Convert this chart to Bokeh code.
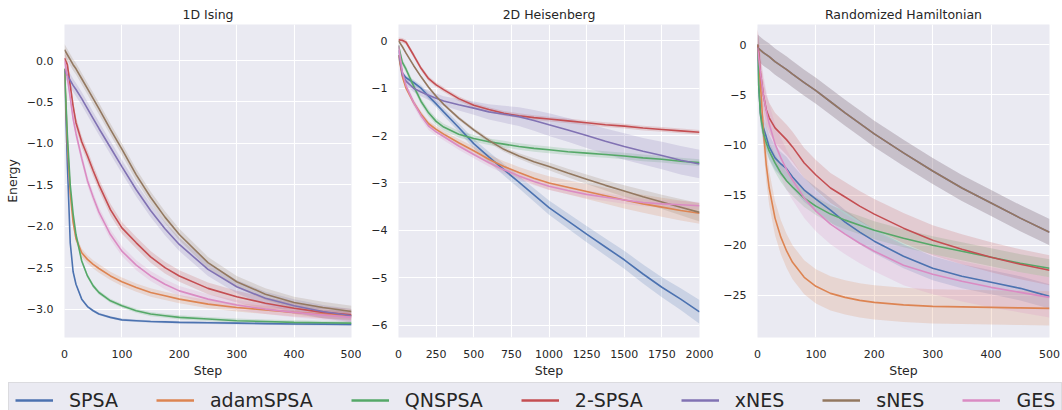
import numpy as np
from bokeh.plotting import figure
from bokeh.layouts import column, row
from bokeh.models import FixedTicker, Legend, LegendItem, Range1d, CustomJSTickFormatter
from bokeh.embed import file_html
from bokeh.resources import INLINE

names = ["SPSA", "adamSPSA", "QNSPSA", "2-SPSA", "xNES", "sNES", "GES"]
colors = ["#4C72B0", "#DD8452", "#55A868", "#C44E52", "#8172B3", "#937860", "#DA8BC3"]

# ---------------- 1D Ising ----------------
ising_steps = [0, 5, 10, 15, 20, 30, 40, 50, 60, 80, 100, 125, 150, 175, 200, 250, 300, 350, 400, 450, 500]
ising_SPSA = [-0.1, -1.25, -2.2, -2.55, -2.7, -2.88, -2.97, -3.02, -3.06, -3.1, -3.13, -3.14, -3.15, -3.155, -3.16, -3.165, -3.17, -3.175, -3.18, -3.182, -3.185]
ising_adamSPSA = [-0.1, -1.0, -1.6, -1.95, -2.15, -2.32, -2.4, -2.46, -2.51, -2.6, -2.67, -2.74, -2.8, -2.84, -2.88, -2.94, -2.98, -3.01, -3.04, -3.06, -3.08]
ising_QNSPSA = [-0.1, -0.9, -1.5, -1.85, -2.1, -2.42, -2.6, -2.72, -2.8, -2.9, -2.96, -3.02, -3.06, -3.08, -3.1, -3.12, -3.14, -3.15, -3.16, -3.165, -3.17]
ising_2SPSA = [0.03, -0.05, -0.3, -0.55, -0.75, -0.98, -1.15, -1.33, -1.5, -1.8, -2.02, -2.2, -2.37, -2.5, -2.6, -2.75, -2.85, -2.93, -2.99, -3.04, -3.07]
ising_xNES = [-0.12, -0.18, -0.24, -0.3, -0.35, -0.46, -0.58, -0.7, -0.82, -1.05, -1.28, -1.56, -1.81, -2.03, -2.22, -2.52, -2.73, -2.87, -2.96, -3.03, -3.08]
ising_sNES = [0.13, 0.07, 0.01, -0.05, -0.1, -0.22, -0.34, -0.46, -0.58, -0.83, -1.07, -1.38, -1.65, -1.89, -2.1, -2.44, -2.67, -2.82, -2.92, -2.98, -3.03]
ising_GES = [0.0, -0.2, -0.45, -0.7, -0.88, -1.18, -1.45, -1.65, -1.83, -2.1, -2.3, -2.47, -2.6, -2.7, -2.78, -2.88, -2.95, -3.0, -3.04, -3.07, -3.1]
ising_spread = [0.015, 0.05, 0.025, 0.07, 0.08, 0.07, 0.06]

# ---------------- 2D Heisenberg ----------------
heis_steps = [0, 25, 50, 100, 150, 200, 250, 300, 400, 500, 600, 700, 800, 900, 1000, 1125, 1250, 1375, 1500, 1625, 1750, 1875, 2000]
heis_SPSA = [-0.3, -0.68, -0.78, -0.88, -1.0, -1.17, -1.33, -1.5, -1.83, -2.17, -2.45, -2.72, -2.98, -3.25, -3.52, -3.8, -4.08, -4.35, -4.62, -4.92, -5.2, -5.45, -5.72]
heis_adamSPSA = [-0.3, -0.75, -1.0, -1.3, -1.55, -1.75, -1.87, -1.97, -2.15, -2.32, -2.5, -2.65, -2.78, -2.9, -3.0, -3.09, -3.18, -3.27, -3.36, -3.44, -3.51, -3.58, -3.64]
heis_QNSPSA = [-0.1, -0.45, -0.6, -0.95, -1.28, -1.52, -1.7, -1.82, -1.97, -2.06, -2.13, -2.18, -2.23, -2.27, -2.3, -2.34, -2.37, -2.4, -2.43, -2.47, -2.5, -2.54, -2.57]
heis_2SPSA = [0.02, 0.01, -0.03, -0.3, -0.58, -0.8, -0.93, -1.03, -1.22, -1.36, -1.45, -1.53, -1.58, -1.62, -1.65, -1.69, -1.73, -1.77, -1.8, -1.84, -1.87, -1.9, -1.93]
heis_xNES = [-0.2, -0.72, -0.85, -1.0, -1.08, -1.15, -1.21, -1.27, -1.35, -1.42, -1.5, -1.55, -1.6, -1.68, -1.77, -1.88, -2.0, -2.12, -2.23, -2.33, -2.42, -2.52, -2.6]
heis_sNES = [0.0, -0.12, -0.26, -0.52, -0.76, -0.98, -1.17, -1.34, -1.63, -1.88, -2.1, -2.29, -2.43, -2.55, -2.65, -2.79, -2.92, -3.05, -3.17, -3.29, -3.4, -3.51, -3.62]
heis_GES = [-0.1, -0.65, -0.95, -1.3, -1.58, -1.8, -1.92, -2.02, -2.22, -2.4, -2.57, -2.72, -2.85, -2.97, -3.07, -3.16, -3.24, -3.3, -3.36, -3.41, -3.44, -3.46, -3.48]
heis_SPSA_sd = [0.02, 0.05, 0.05, 0.06, 0.06, 0.07, 0.07, 0.08, 0.09, 0.1, 0.11, 0.12, 0.13, 0.14, 0.15, 0.16, 0.17, 0.18, 0.19, 0.2, 0.21, 0.23, 0.25]
heis_adamSPSA_sd = [0.02, 0.04, 0.05, 0.05, 0.06, 0.06, 0.07, 0.07, 0.08, 0.09, 0.1, 0.11, 0.12, 0.13, 0.14, 0.15, 0.16, 0.17, 0.18, 0.19, 0.2, 0.21, 0.22]
heis_xNES_sd = [0.03, 0.08, 0.08, 0.08, 0.09, 0.1, 0.1, 0.1, 0.12, 0.14, 0.16, 0.18, 0.2, 0.22, 0.24, 0.25, 0.26, 0.27, 0.28, 0.28, 0.29, 0.3, 0.3]
heis_sNES_sd = [0.01, 0.01, 0.02, 0.02, 0.02, 0.03, 0.03, 0.03, 0.04, 0.04, 0.05, 0.05, 0.06, 0.07, 0.08, 0.09, 0.1, 0.11, 0.12, 0.14, 0.15, 0.17, 0.19]
heis_spread = [heis_SPSA_sd, heis_adamSPSA_sd, 0.07, 0.05, heis_xNES_sd, heis_sNES_sd, 0.08]

# ---------------- Randomized Hamiltonian ----------------
rand_steps = [0, 2, 5, 10, 15, 20, 30, 40, 50, 60, 80, 100, 125, 150, 175, 200, 250, 300, 350, 400, 450, 500]
rand_SPSA = [0.0, -4.0, -6.8, -8.3, -9.2, -10.2, -11.3, -11.9, -12.4, -13.2, -14.5, -15.4, -16.5, -17.7, -18.7, -19.6, -21.1, -22.3, -23.1, -23.7, -24.3, -25.1]
rand_adamSPSA = [0.0, -1.5, -4.0, -8.5, -12.0, -14.3, -17.3, -19.2, -20.6, -21.7, -23.2, -24.1, -24.8, -25.2, -25.5, -25.7, -25.95, -26.1, -26.15, -26.2, -26.25, -26.3]
rand_QNSPSA = [0.0, -4.0, -7.0, -8.8, -9.8, -10.6, -11.8, -12.8, -13.6, -14.2, -15.3, -16.1, -16.9, -17.5, -18.0, -18.5, -19.3, -20.0, -20.6, -21.2, -21.8, -22.3]
rand_2SPSA = [0.0, -0.8, -2.8, -5.0, -6.5, -7.3, -8.3, -8.9, -9.5, -10.2, -11.8, -13.0, -14.3, -15.2, -16.1, -16.9, -18.3, -19.5, -20.4, -21.2, -21.9, -22.5]
rand_xNES = [-0.3, -0.4, -0.55, -0.8, -1.0, -1.2, -1.7, -2.1, -2.5, -2.95, -3.8, -4.6, -5.7, -6.8, -7.85, -8.9, -10.8, -12.6, -14.3, -15.8, -17.3, -18.7]
rand_sNES = [-0.3, -0.4, -0.55, -0.8, -1.0, -1.2, -1.7, -2.1, -2.5, -2.95, -3.8, -4.6, -5.7, -6.8, -7.85, -8.9, -10.8, -12.6, -14.3, -15.8, -17.3, -18.7]
rand_GES = [-0.3, -1.2, -2.8, -5.0, -6.6, -7.9, -9.9, -11.3, -12.5, -13.5, -15.3, -16.6, -17.9, -18.9, -19.8, -20.6, -22.0, -22.9, -23.6, -24.2, -24.7, -25.2]
rand_spread = [1.2, 1.7, 0.9, 1.5, 1.3, 1.3, 2.0]

FONT = "DejaVu Sans"
TXT = "#262626"


def make_panel(title, steps, series, spreads, xr, yr, xticks, yticks, decimals,
               width, left, right, ylabel=None):
    p = figure(width=width, height=380, output_backend="svg", toolbar_location=None,
               x_range=Range1d(*xr), y_range=Range1d(*yr),
               min_border_left=left, min_border_right=right,
               min_border_top=24, min_border_bottom=43)
    p.title.text = title
    p.title.align = "center"
    p.title.text_font = FONT
    p.title.text_font_size = "12.5px"
    p.title.text_font_style = "normal"
    p.title.text_color = TXT
    p.title.standoff = 5
    p.background_fill_color = "#EAEAF2"
    p.border_fill_color = "white"
    p.outline_line_color = None
    p.grid.grid_line_color = "white"
    p.grid.grid_line_width = 1.1
    p.xaxis.ticker = FixedTicker(ticks=xticks)
    p.yaxis.ticker = FixedTicker(ticks=yticks)
    p.yaxis.formatter = CustomJSTickFormatter(
        code="return tick.toFixed(%d).replace('-', '\\u2212');" % decimals)
    p.xaxis.formatter = CustomJSTickFormatter(code="return tick.toFixed(0);")
    for ax in p.axis:
        ax.axis_line_color = None
        ax.major_tick_line_color = None
        ax.minor_tick_line_color = None
        ax.major_tick_out = 0
        ax.major_tick_in = 0
        ax.major_label_text_font = FONT
        ax.major_label_text_font_size = "11px"
        ax.major_label_text_color = TXT
        ax.axis_label_text_font = FONT
        ax.axis_label_text_font_size = "12.5px"
        ax.axis_label_text_font_style = "normal"
        ax.axis_label_text_color = TXT
    p.xaxis.major_label_standoff = 12
    p.yaxis.major_label_standoff = 11
    p.xaxis.axis_label = "Step"
    p.xaxis.axis_label_standoff = 2
    if ylabel:
        p.yaxis.axis_label = ylabel
        p.yaxis.axis_label_standoff = 4
    x = np.array(steps, dtype=float)
    for vals, sd, c in zip(series, spreads, colors):
        v = np.array(vals, dtype=float)
        s = np.array(sd, dtype=float) if isinstance(sd, list) else np.full(len(v), sd)
        p.varea(x=x, y1=v - s, y2=v + s, fill_color=c, fill_alpha=0.2)
    for vals, c in zip(series, colors):
        p.line(x=x, y=vals, line_color=c, line_width=1.6)
    return p


p1 = make_panel("1D Ising", ising_steps,
                [ising_SPSA, ising_adamSPSA, ising_QNSPSA, ising_2SPSA, ising_xNES, ising_sNES, ising_GES],
                ising_spread, (0, 500), (-3.343, 0.435),
                [0, 100, 200, 300, 400, 500], [0.0, -0.5, -1.0, -1.5, -2.0, -2.5, -3.0], 1,
                361, 64, 10, ylabel="Energy")
p2 = make_panel("2D Heisenberg", heis_steps,
                [heis_SPSA, heis_adamSPSA, heis_QNSPSA, heis_2SPSA, heis_xNES, heis_sNES, heis_GES],
                heis_spread, (0, 2000), (-6.26, 0.344),
                [0, 250, 500, 750, 1000, 1250, 1500, 1750, 2000], [0, -1, -2, -3, -4, -5, -6], 0,
                354, 37, 16)
p3 = make_panel("Randomized Hamiltonian", rand_steps,
                [rand_SPSA, rand_adamSPSA, rand_QNSPSA, rand_2SPSA, rand_xNES, rand_sNES, rand_GES],
                rand_spread, (0, 500), (-29.2, 2.0),
                [0, 100, 200, 300, 400, 500], [0, -5, -10, -15, -20, -25], 0,
                347, 42, 13)

# ---------------- legend strip ----------------
leg = figure(width=1062, height=30, output_backend="svg", toolbar_location=None,
             x_range=Range1d(0, 1), y_range=Range1d(0, 1),
             x_axis_type=None, y_axis_type=None,
             min_border_left=0, min_border_right=0, min_border_top=0, min_border_bottom=0)
leg.outline_line_color = None
leg.background_fill_color = "white"
leg.border_fill_color = "white"
leg.grid.visible = False
items = []
for n, c in zip(names, colors):
    r = leg.line(x=[0, 1], y=[-5, -5], line_color=c, line_width=2.5)
    items.append(LegendItem(label=n, renderers=[r]))
legend = Legend(items=items, orientation="horizontal", location=(8, -8),
                label_text_font=FONT, label_text_font_size="19px", label_text_color=TXT,
                glyph_width=38, glyph_height=20, label_standoff=16, spacing=38,
                padding=6, margin=0, background_fill_color="#EAEAF2", background_fill_alpha=1.0,
                border_line_color="#CCCCCC", border_line_width=1)
leg.add_layout(legend, "center")

layout = column(row(p1, p2, p3), leg)
open("out.html", "w").write(file_html(layout, INLINE))
